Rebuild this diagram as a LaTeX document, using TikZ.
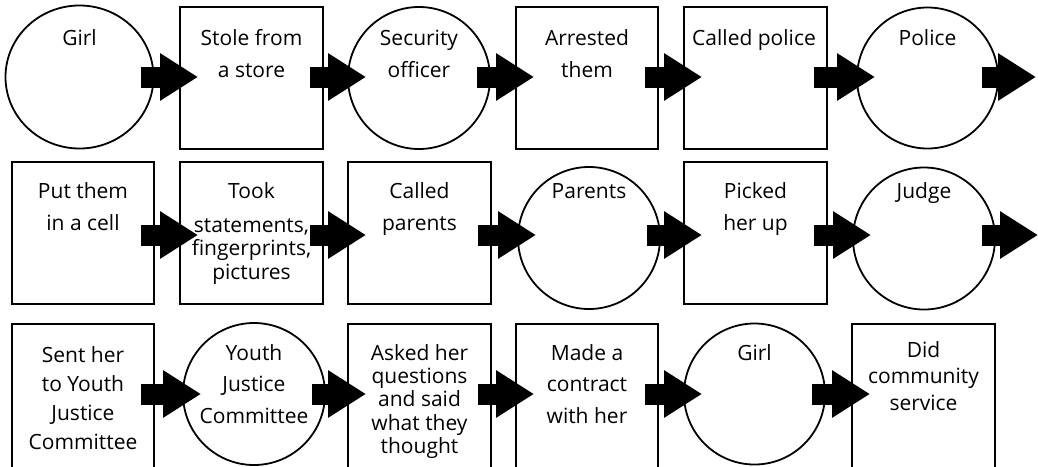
\documentclass[tikz,border=0pt]{standalone}
\usepackage{fontspec}
\setmainfont{Open Sans}
\usetikzlibrary{arrows.meta,calc,shapes.geometric}
\newcommand{\lnstrut}{\rule{0pt}{18pt}}
\begin{document}
\begin{tikzpicture}[x=1pt,y=-1pt,
  shp/.style={draw=black,line width=1.8pt,inner sep=0pt,outer sep=0pt},
  box/.style={shp,rectangle,minimum width=143pt,minimum height=142pt},
  ring/.style={shp,circle,minimum size=142pt},
  lbl/.style={font=\fontsize{21}{32}\selectfont,align=center,inner sep=0pt,anchor=north,text=black},
  arr/.style={line width=21pt,-{Triangle[length=38pt,width=45pt]}}]
\useasboundingbox (0,0) rectangle (1038,466);
\coordinate (r1) at (0,77);
\coordinate (r2) at (0,235);
\coordinate (r3) at (0,394);
% Row 1
\node[shp,ellipse,minimum width=148pt,minimum height=143pt] (girlA) at (79.5,77) {};
\node[box] (stole) at (251.5,78) {};
\node[ring] (security) at (419,78) {};
\node[box,minimum width=142pt] (arrested) at (587,78) {};
\node[box] (callpol) at (755.5,78) {};
\node[ring,minimum size=141pt] (police) at (927.5,78) {};
\node[lbl] (girlA-t) at (79.5,27) {\lnstrut Girl};
\node[lbl] (stole-t) at (251.5,27) {\lnstrut Stole from\\a store};
\node[lbl] (security-t) at (419,27) {\lnstrut Security\\officer};
\node[lbl] (arrested-t) at (587,27) {\lnstrut Arrested\\them};
\node[lbl] (callpol-t) at (754,27) {\lnstrut Called police};
\node[lbl] (police-t) at (927.5,27) {\lnstrut Police};
\coordinate (end1) at (1036,77);
% Row 2
\node[box,minimum width=142pt] (cell) at (83,233) {};
\node[box] (took) at (251.5,233) {};
\node[box] (callpar) at (419.5,233) {};
\node[ring] (parents) at (589,238) {};
\node[box] (picked) at (755.5,233) {};
\node[ring] (judge) at (924,238.5) {};
\node[lbl] (cell-t) at (83,180) {\lnstrut Put them\\in a cell};
\node[lbl,font=\fontsize{21}{23.5}\selectfont] (took-t) at (251.5,180) {\lnstrut Took\\[10.5pt]statements,\\fingerprints,\\pictures};
\node[lbl] (callpar-t) at (419.5,180) {\lnstrut Called\\parents};
\node[lbl] (parents-t) at (589,180) {\lnstrut Parents};
\node[lbl] (picked-t) at (755.5,180) {\lnstrut Picked\\her up};
\node[lbl] (judge-t) at (924,180) {\lnstrut Judge};
\coordinate (end2) at (1038,235);
% Row 3
\node[box,minimum width=142pt,minimum height=146pt] (sent) at (83,397) {};
\node[ring] (youth) at (254,394) {};
\node[box,minimum height=146pt] (asked) at (419.5,397) {};
\node[box,minimum width=142pt,minimum height=146pt] (contract) at (587,397) {};
\node[ring,minimum size=141pt] (girlB) at (754.5,394) {};
\node[box,minimum height=146pt] (did) at (923.5,397) {};
\node[lbl,font=\fontsize{21}{29}\selectfont] (sent-t) at (83,344) {\lnstrut Sent her\\to Youth\\Justice\\Committee};
\node[lbl,font=\fontsize{21}{31.5}\selectfont] (youth-t) at (254,342) {\lnstrut Youth\\Justice\\Committee};
\node[lbl,font=\fontsize{21}{23.3}\selectfont] (asked-t) at (419.5,342) {\lnstrut Asked her\\questions\\and said\\what they\\thought};
\node[lbl,font=\fontsize{21}{31.5}\selectfont] (contract-t) at (587,342) {\lnstrut Made a\\contract\\with her};
\node[lbl] (girlB-t) at (754.5,342) {\lnstrut Girl};
\node[lbl,font=\fontsize{21}{26.5}\selectfont] (did-t) at (923.5,339) {\lnstrut Did\\community\\service};
% Connectors
\foreach \a/\b/\r in {girlA/stole/r1,stole/security/r1,security/arrested/r1,arrested/callpol/r1,callpol/police/r1,
  cell/took/r2,took/callpar/r2,callpar/parents/r2,parents/picked/r2,picked/judge/r2,
  sent/youth/r3,youth/asked/r3,asked/contract/r3,contract/girlB/r3,girlB/did/r3}
  {\draw[arr] ($(\a.east|-\r)+(-13,0)$) -- ($(\b.west|-\r)+(18,0)$);}
\draw[arr] ($(police.east|-r1)+(-16,0)$) -- (end1);
\draw[arr] ($(judge.east|-r2)+(-13,0)$) -- (end2);
\end{tikzpicture}
\end{document}
